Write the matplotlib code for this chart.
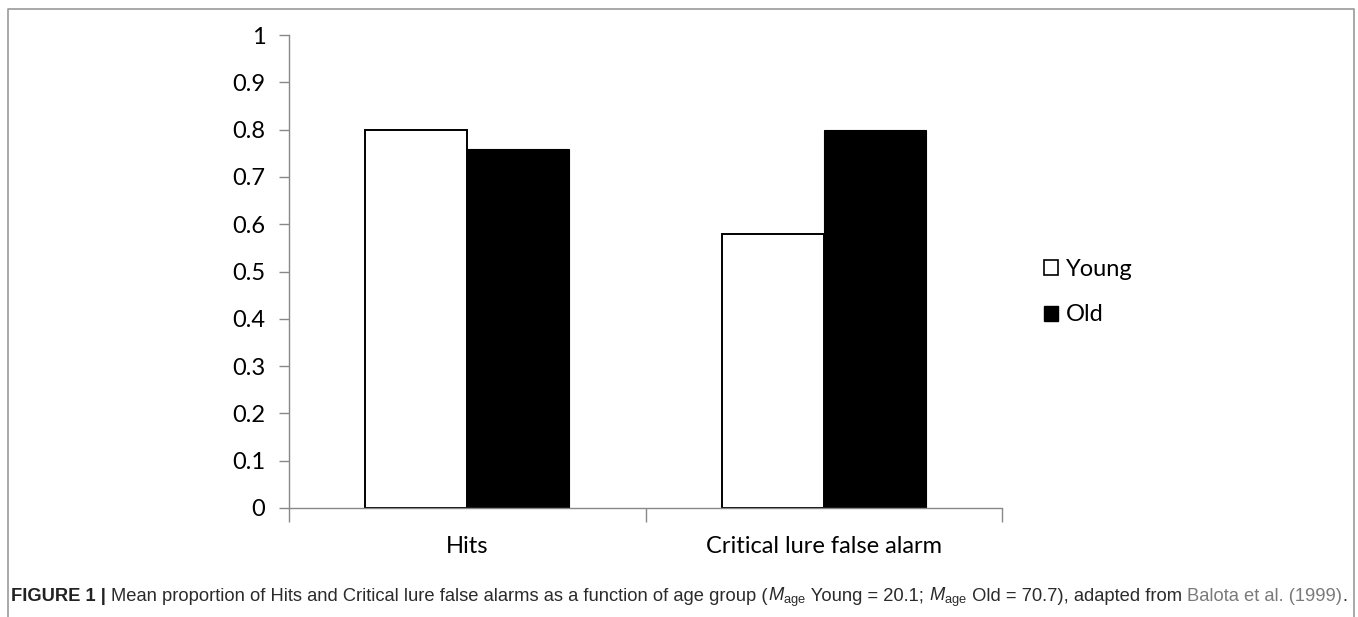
import matplotlib
matplotlib.use("Agg")
import matplotlib.pyplot as plt
from matplotlib.patches import Patch
from matplotlib.lines import Line2D
from matplotlib.offsetbox import TextArea, HPacker, AnchoredOffsetbox

categories = ["Hits", "Critical lure false alarm"]
series_names = ["Young", "Old"]
young = [0.80, 0.58]
old = [0.76, 0.80]
yticks = [0, 0.1, 0.2, 0.3, 0.4, 0.5, 0.6, 0.7, 0.8, 0.9, 1]
ytick_labels = ["0", "0.1", "0.2", "0.3", "0.4", "0.5", "0.6", "0.7", "0.8", "0.9", "1"]

plt.rcParams["mathtext.fontset"] = "custom"
plt.rcParams["mathtext.rm"] = "Liberation Sans"
plt.rcParams["mathtext.it"] = "Liberation Sans:italic"

W, H = 1358, 617
fig = plt.figure(figsize=(W / 100, H / 100), dpi=100)
ax = fig.add_axes([289 / W, 1 - 508 / H, (1002 - 289) / W, (508 - 35) / H])

chart_font = "Lato"
fs = 17
bw = 0.286
x = list(range(len(categories)))
ax.bar([i - bw / 2 for i in x], young, width=bw, color="white", edgecolor="black", linewidth=1.4)
ax.bar([i + bw / 2 for i in x], old, width=bw, color="black", edgecolor="black", linewidth=0.8)

ax.set_xlim(-0.5, len(categories) - 0.5)
ax.set_ylim(0, 1)
ax.set_yticks(yticks)
ax.set_yticklabels(ytick_labels, fontfamily=chart_font, fontsize=fs)
ax.set_xticks([i - 0.5 for i in range(len(categories) + 1)])
ax.set_xticklabels([])
ax.set_xticks(x, minor=True)
ax.set_xticklabels(categories, minor=True, fontfamily=chart_font, fontsize=fs)
ax.tick_params(axis="x", which="major", direction="out", length=10, color="#888888", width=1)
ax.tick_params(axis="x", which="minor", length=0, pad=20)
ax.tick_params(axis="y", direction="out", length=7, color="#888888", width=1, pad=10)
for s in ["top", "right"]:
    ax.spines[s].set_visible(False)
for s in ["left", "bottom"]:
    ax.spines[s].set_color("#888888")
    ax.spines[s].set_linewidth(1)

handles = [Patch(facecolor="white", edgecolor="black", linewidth=1.2),
           Patch(facecolor="black", edgecolor="black")]
fig.legend(handles, series_names, loc="center left", bbox_to_anchor=(1023 / W, 1 - 292 / H),
           frameon=False, prop={"family": chart_font, "size": fs},
           handlelength=0.6, handleheight=0.6, handletextpad=0.3, labelspacing=1.05)

# frame around figure panel
fig.add_artist(Line2D([8 / W, 8 / W, 1354 / W, 1354 / W], [0, 1 - 9 / H, 1 - 9 / H, 0],
                      transform=fig.transFigure, color="#9a9a9a", linewidth=1.2))

cap_font = "Liberation Sans"
cfs = 13.2
dark = "#2b2b2b"
pieces = [
    ("FIGURE 1 | ", dict(weight="bold", color="#222222")),
    ("Mean proportion of Hits and Critical lure false alarms as a function of age group (", dict(color=dark)),
    (r"$M_{\rm age}$", dict(color=dark)),
    (" Young = 20.1; ", dict(color=dark)),
    (r"$M_{\rm age}$", dict(color=dark)),
    (" Old = 70.7), adapted from ", dict(color=dark)),
    ("Balota et al. (1999)", dict(color="#7a7a7a")),
    (".", dict(color=dark)),
]
areas = []
for txt, props in pieces:
    p = dict(family=cap_font, size=cfs)
    p.update(props)
    areas.append(TextArea(txt, textprops=p))
box = HPacker(children=areas, align="baseline", pad=0, sep=0)
anch = AnchoredOffsetbox(loc="center left", child=box, pad=0, frameon=False,
                         bbox_to_anchor=(11 / W, 1 - 597 / H), bbox_transform=fig.transFigure,
                         borderpad=0)
fig.add_artist(anch)

fig.savefig("out.png", dpi=100)
